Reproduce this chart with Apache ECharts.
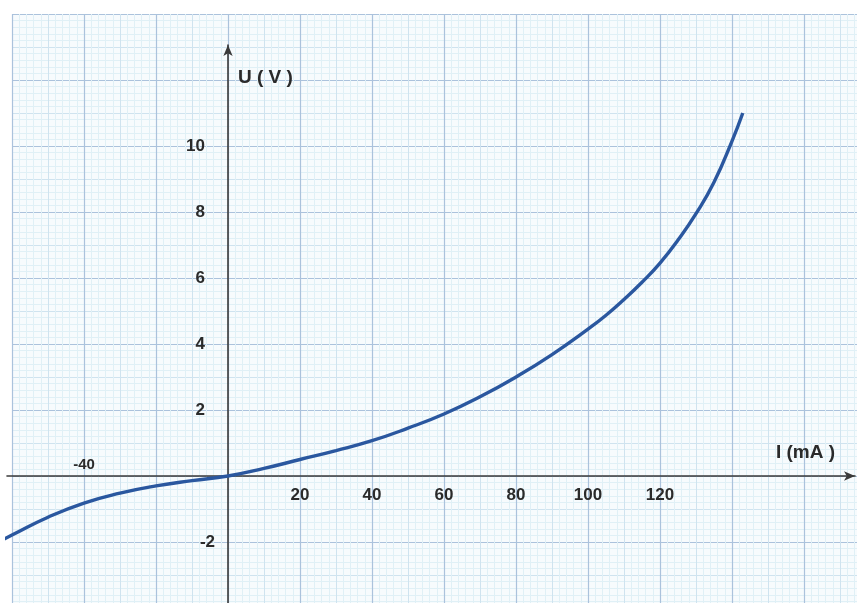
<!DOCTYPE html>
<html>
<head>
<meta charset="utf-8">
<title>U-I</title>
<script src="https://cdn.jsdelivr.net/npm/echarts@6/dist/echarts.min.js"></script>
<style>
  html, body { margin: 0; padding: 0; background: #fff; }
  #chart { width: 857px; height: 603px; }
</style>
</head>
<body>
<div id="chart"></div>
<script>
// I (mA) / U (V)
var currentMA = [-65, -60, -50, -40, -30, -20, -10, 0, 10, 20, 30, 40, 50, 60, 70, 80, 90, 100, 105, 110, 115, 120, 125, 130, 135, 140, 143];
var voltageV  = [-2.06, -1.79, -1.25, -0.82, -0.52, -0.3, -0.14, 0, 0.23, 0.5, 0.77, 1.07, 1.45, 1.88, 2.4, 3.0, 3.68, 4.45, 4.87, 5.35, 5.87, 6.45, 7.15, 7.95, 8.9, 10.15, 11.0];

var xTicksBelow = [20, 40, 60, 80, 100, 120];
var xTicksAbove = [-40];
var yTicksLeft  = [2, 4, 6, 8, 10];
var yTicksNeg   = [-2];

var paperMin = [-60, -4], paperMax = [180, 14];

var textStyle = { color: '#2a2a2a', fontWeight: 'bold', fontFamily: 'Liberation Sans, Arial, sans-serif' };
var labelFont = Object.assign({fontSize: 17}, textStyle);
var nameFont = Object.assign({fontSize: 19}, textStyle);

// origin of the drawing is at (228, 476); 3.6 px per mA, 33 px per V
var axMin = [(7 - 228) / 3.6, (476 - 603) / 33];
var axMax = [(855 - 228) / 3.6, (476 - 45) / 33];

function paper(dim, step, color, width) {
    return {
        gridIndex: 0, type: 'value', min: paperMin[dim], max: paperMax[dim], interval: step,
        axisLine: {show: false}, axisTick: {show: false}, axisLabel: {show: false},
        splitLine: {show: true, lineStyle: {color: color, width: width}}
    };
}
function hidden(grid, dim) {
    return {gridIndex: grid, type: 'value', min: axMin[dim], max: axMax[dim], show: false, splitLine: {show: false}};
}
var arrowLine = {show: true, onZero: false, symbol: ['none', 'arrow'], symbolSize: [7, 11],
                 lineStyle: {color: '#3a3a3a', width: 1.6}};

var chart = echarts.init(document.getElementById('chart'));
chart.setOption({
    backgroundColor: '#ffffff',
    animation: false,
    grid: [
        // graph paper
        {left: 12, top: 14, width: 240 * 3.6, height: 18 * 33, show: true, backgroundColor: '#f7fbfd', borderWidth: 0, outerBoundsMode: 'none'},
        // curve
        {left: 7, top: 45, width: 848, height: 558, outerBoundsMode: 'none'},
        // horizontal axis, bottom edge on U = 0
        {left: 7, top: 0, width: 848, height: 476, outerBoundsMode: 'none'},
        // label above horizontal axis
        {left: 7, top: 476, width: 848, height: 127, outerBoundsMode: 'none'},
        // vertical axis, left edge on I = 0
        {left: 228, top: 45, width: 627, height: 558, outerBoundsMode: 'none'}
    ],
    xAxis: [
        paper(0, 2, '#e0f0f6', 1),
        paper(0, 10, '#cfe3ef', 1),
        paper(0, 20, '#abc2dc', 1.2),
        hidden(1, 0),
        {
            gridIndex: 2, type: 'value', min: axMin[0], max: axMax[0], position: 'bottom',
            name: 'I (mA )', nameLocation: 'end', nameGap: -20,
            nameTextStyle: Object.assign({align: 'right', verticalAlign: 'bottom', padding: [0, 0, 14, 0]}, nameFont),
            axisLine: arrowLine, axisTick: {show: false},
            axisLabel: Object.assign({margin: 11, customValues: xTicksBelow}, labelFont),
            splitLine: {show: false}
        },
        {
            gridIndex: 3, type: 'value', min: axMin[0], max: axMax[0], position: 'top',
            axisLine: {show: false}, axisTick: {show: false},
            axisLabel: Object.assign({margin: 4, customValues: xTicksAbove}, labelFont, {fontSize: 15}),
            splitLine: {show: false}
        },
        {gridIndex: 4, type: 'value', min: 0, max: axMax[0], show: false, splitLine: {show: false}}
    ],
    yAxis: [
        paper(1, 0.2, '#e0f0f6', 1),
        paper(1, 1, '#cfe3ef', 1),
        paper(1, 2, '#abc2dc', 1.2),
        hidden(1, 1),
        {gridIndex: 2, type: 'value', min: 0, max: axMax[1], show: false, splitLine: {show: false}},
        {gridIndex: 3, type: 'value', min: axMin[1], max: 0, show: false, splitLine: {show: false}},
        {
            gridIndex: 4, type: 'value', min: axMin[1], max: axMax[1], position: 'left',
            name: 'U ( V )', nameLocation: 'end', nameGap: -33,
            nameTextStyle: Object.assign({align: 'left', verticalAlign: 'middle', padding: [0, 0, 0, 10]}, nameFont),
            axisLine: arrowLine, axisTick: {show: false},
            axisLabel: Object.assign({margin: 23, customValues: yTicksLeft}, labelFont),
            splitLine: {show: false}
        },
        {
            gridIndex: 4, type: 'value', min: axMin[1], max: axMax[1], position: 'left',
            axisLine: {show: false}, axisTick: {show: false},
            axisLabel: Object.assign({margin: 13, customValues: yTicksNeg}, labelFont),
            splitLine: {show: false}
        }
    ],
    series: [{
        type: 'line',
        xAxisIndex: 3,
        yAxisIndex: 3,
        data: currentMA.map(function(x, i){ return [x, voltageV[i]]; }),
        smooth: 0.5,
        showSymbol: false,
        clip: false,
        lineStyle: {color: '#2a579f', width: 3.4}
    }]
});
</script>
</body>
</html>
